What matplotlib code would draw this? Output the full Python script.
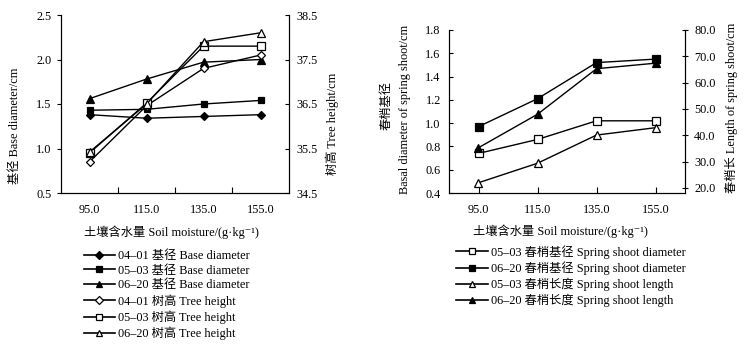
import matplotlib
matplotlib.use("Agg")
import matplotlib.pyplot as plt
from matplotlib.lines import Line2D

FAM = ["Liberation Serif", "Noto Sans CJK SC", "DejaVu Sans"]
plt.rcParams["font.family"] = FAM
plt.rcParams["font.size"] = 8.8

# soil moisture categories (shared by both panels)
MOISTURE = ["95.0", "115.0", "135.0", "155.0"]

# left panel: base diameter (cm, left axis) and tree height (cm, right axis)
base_0401 = [1.38, 1.34, 1.36, 1.38]
base_0503 = [1.43, 1.44, 1.50, 1.54]
base_0620 = [1.56, 1.78, 1.97, 2.00]
height_0401 = [35.20, 36.46, 37.30, 37.60]
height_0503 = [35.40, 36.52, 37.80, 37.80]
height_0620 = [35.42, 36.50, 37.90, 38.10]

# right panel: spring shoot diameter (cm, left) and length (cm, right)
shoot_dia_0503 = [0.74, 0.86, 1.02, 1.02]
shoot_dia_0620 = [0.97, 1.21, 1.52, 1.55]
shoot_len_0503 = [22.0, 29.4, 40.1, 42.9]
shoot_len_0620 = [35.3, 48.0, 65.3, 67.4]

XLABEL = "土壤含水量 Soil moisture/(g·kg⁻¹)"

W, H = 747, 347
fig = plt.figure(figsize=(W / 100, H / 100), dpi=100)


def box(x0, x1, ytop, ybot):
    return [x0 / W, 1 - ybot / H, (x1 - x0) / W, (ybot - ytop) / H]


def line(ax, ys, marker, filled, ms):
    x = list(range(len(ys)))
    ax.plot(x, ys, color="black", linewidth=1.0, marker=marker, markersize=ms,
            markerfacecolor="black" if filled else "white",
            markeredgecolor="black", markeredgewidth=0.9, clip_on=False)


def handle(marker, filled, ms):
    return Line2D([], [], color="black", linewidth=1.2, marker=marker, markersize=ms,
                  markerfacecolor="black" if filled else "white",
                  markeredgecolor="black", markeredgewidth=0.9)


# ---------------- left panel ----------------
ax1 = fig.add_axes(box(61, 289, 15, 193))
ax2 = ax1.twinx()
ax1.set_xlim(-0.5, 3.5)
ax1.set_ylim(0.5, 2.5)
ax2.set_ylim(34.5, 38.5)
ax1.set_yticks([0.5, 1.0, 1.5, 2.0, 2.5])
ax1.set_yticklabels([f"{v:.1f}" for v in [0.5, 1.0, 1.5, 2.0, 2.5]])
ax2.set_yticks([34.5, 35.5, 36.5, 37.5, 38.5])
ax2.set_yticklabels([f"{v:.1f}" for v in [34.5, 35.5, 36.5, 37.5, 38.5]])
ax1.set_xticks([0.5, 1.5, 2.5])
ax1.set_xticklabels([])
ax1.set_xticks([0, 1, 2, 3], minor=True)
ax1.set_xticklabels(MOISTURE, minor=True)
ax1.tick_params(axis="x", which="major", direction="in", length=4, width=0.8)
ax1.tick_params(axis="x", which="minor", length=0, pad=8)
ax1.tick_params(axis="y", direction="out", length=3, width=0.8, pad=4)
ax2.tick_params(axis="y", direction="in", length=3, width=0.8, pad=5)
for a in (ax1, ax2):
    a.spines["top"].set_visible(False)
    for s in a.spines.values():
        s.set_linewidth(0.8)

line(ax1, base_0401, "D", True, 4)
line(ax1, base_0503, "s", True, 5)
line(ax1, base_0620, "^", True, 5.5)
line(ax2, height_0401, "D", False, 4)
line(ax2, height_0503, "s", False, 5.5)
line(ax2, height_0620, "^", False, 5.5)

fig.text(15 / W, 1 - 126 / H, "基径 Base diameter/cm", rotation=90,
         ha="center", va="center", family=FAM)
fig.text(332 / W, 1 - 124 / H, "树高 Tree height/cm", rotation=90,
         ha="center", va="center", family=FAM)
fig.text(171 / W, 1 - 232 / H, XLABEL, ha="center", va="center", family=FAM)

h1 = [handle("D", True, 4), handle("s", True, 5), handle("^", True, 5),
      handle("D", False, 4), handle("s", False, 5), handle("^", False, 5)]
l1 = ["04–01 基径 Base diameter", "05–03 基径 Base diameter",
      "06–20 基径 Base diameter", "04–01 树高 Tree height",
      "05–03 树高 Tree height", "06–20 树高 Tree height"]
fig.legend(h1, l1, loc="upper left", bbox_to_anchor=(84 / W, 1 - 250 / H),
           frameon=False, handlelength=2.5, handletextpad=0.3, labelspacing=0.22,
           borderpad=0, borderaxespad=0, prop={"family": FAM, "size": 8.8})

# ---------------- right panel ----------------
ax3 = fig.add_axes(box(449, 685, 30, 193))
ax4 = ax3.twinx()
ax3.set_xlim(-0.5, 3.5)
ax3.set_ylim(0.4, 1.8)
ax4.set_ylim(18.1, 80.0)
ax3.set_yticks([0.4, 0.6, 0.8, 1.0, 1.2, 1.4, 1.6, 1.8])
ax3.set_yticklabels([f"{v:.1f}" for v in [0.4, 0.6, 0.8, 1.0, 1.2, 1.4, 1.6, 1.8]])
ax4.set_yticks([20, 30, 40, 50, 60, 70, 80])
ax4.set_yticklabels([f"{v:.1f}" for v in [20, 30, 40, 50, 60, 70, 80]])
ax3.set_xticks([0, 1, 2, 3])
ax3.set_xticklabels(MOISTURE)
ax3.tick_params(axis="x", direction="in", length=4, width=0.8, pad=8)
ax3.tick_params(axis="y", direction="in", length=3, width=0.8, pad=6)
ax4.tick_params(axis="y", direction="inout", length=5, width=0.8, pad=4)
for a in (ax3, ax4):
    a.spines["top"].set_visible(False)
    for s in a.spines.values():
        s.set_linewidth(0.8)
ax4.spines["right"].set_bounds(20, 80)

line(ax3, shoot_dia_0503, "s", False, 6)
line(ax3, shoot_dia_0620, "s", True, 6)
line(ax4, shoot_len_0503, "^", False, 6)
line(ax4, shoot_len_0620, "^", True, 6)

fig.text(387 / W, 1 - 105 / H, "春梢基径", rotation=90,
         ha="center", va="center", family=FAM)
fig.text(405 / W, 1 - 109 / H, "Basal diameter of spring shoot/cm", rotation=90,
         ha="center", va="center", family=FAM)
fig.text(731 / W, 1 - 108 / H, "春梢长 Length of spring shoot/cm", rotation=90,
         ha="center", va="center", family=FAM)
fig.text(560 / W, 1 - 231 / H, XLABEL, ha="center", va="center", family=FAM)

h2 = [handle("s", False, 5), handle("s", True, 5),
      handle("^", False, 5), handle("^", True, 5)]
l2 = ["05–03 春梢基径 Spring shoot diameter", "06–20 春梢基径 Spring shoot diameter",
      "05–03 春梢长度 Spring shoot length", "06–20 春梢长度 Spring shoot length"]
fig.legend(h2, l2, loc="upper left", bbox_to_anchor=(456 / W, 1 - 245 / H),
           frameon=False, handlelength=2.6, handletextpad=0.3, labelspacing=0.22,
           borderpad=0, borderaxespad=0, prop={"family": FAM, "size": 8.8})

fig.savefig("out.png", dpi=100)
